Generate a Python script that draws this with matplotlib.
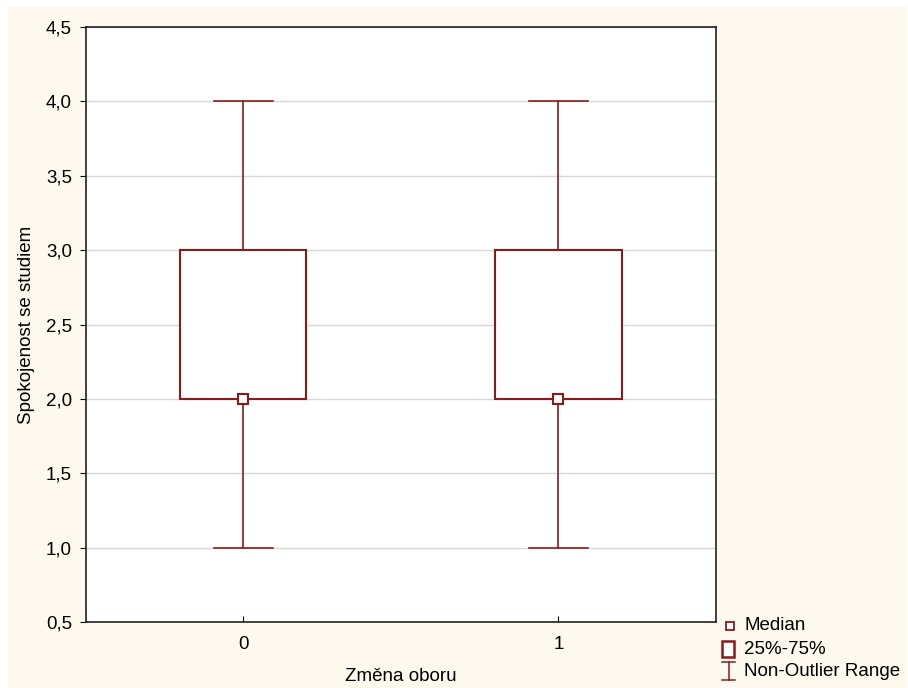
import matplotlib.pyplot as plt
from matplotlib.patches import Rectangle
from matplotlib.lines import Line2D

# data
groups = ["0", "1"]
medians = [2.0, 2.0]
q1 = [2.0, 2.0]
q3 = [3.0, 3.0]
wlow = [1.0, 1.0]
whigh = [4.0, 4.0]
yticks = [0.5, 1.0, 1.5, 2.0, 2.5, 3.0, 3.5, 4.0, 4.5]
legend_labels = ["Median", "25%-75%", "Non-Outlier Range"]

red = "#8b1a1a"
cream = "#fdf9ee"
plt.rcParams["font.family"] = ["Liberation Sans", "DejaVu Sans"]
fs = 13.5

W, H = 908, 688
fig = plt.figure(figsize=(W / 100, H / 100), dpi=100, facecolor="white")
fig.patches.append(Rectangle((8 / W, 0), 1 - 9 / W, 1 - 7 / H,
                             transform=fig.transFigure, facecolor=cream,
                             edgecolor="none", zorder=-10))

ax = fig.add_axes([86 / W, 1 - 622 / H, (716 - 86) / W, (622 - 27) / H])
ax.set_facecolor("white")

bw = 0.4
cap = 0.19
for i in range(len(groups)):
    ax.add_patch(Rectangle((i - bw / 2, q1[i]), bw, q3[i] - q1[i],
                           facecolor="white", edgecolor=red, lw=1.5, zorder=3))
    ax.plot([i, i], [wlow[i], q1[i]], color=red, lw=1.2, zorder=2)
    ax.plot([i, i], [q3[i], whigh[i]], color=red, lw=1.2, zorder=2)
    ax.plot([i - cap / 2, i + cap / 2], [wlow[i]] * 2, color=red, lw=1.2, zorder=2)
    ax.plot([i - cap / 2, i + cap / 2], [whigh[i]] * 2, color=red, lw=1.2, zorder=2)
    ax.plot(i, medians[i], marker="s", ms=7, mfc="white", mec=red, mew=1.5, zorder=4)

ax.set_xlim(-0.5, 1.5)
ax.set_ylim(0.5, 4.5)
ax.set_xticks(range(len(groups)))
ax.set_xticklabels(groups)
ax.set_yticks(yticks)
ax.set_yticklabels([f"{v:.1f}".replace(".", ",") for v in yticks])
ax.yaxis.grid(True, color="#d8d8d8", lw=1)
ax.set_axisbelow(True)
ax.tick_params(axis="y", direction="out", length=4, labelsize=fs, pad=6)
ax.tick_params(axis="x", direction="in", length=4, labelsize=fs, pad=10)
for s in ax.spines.values():
    s.set_color("#222222")
    s.set_linewidth(1.2)

ax.set_xlabel("Změna oboru", fontsize=fs, labelpad=11)
ax.set_ylabel("Spokojenost se studiem", fontsize=fs, labelpad=8)

# legend drawn by hand, positions in pixels
def fx(px):
    return px / W

def fy(py):
    return 1 - py / H

tf = fig.transFigure
fig.add_artist(Line2D([fx(730)], [fy(626)], ls="none", marker="s", ms=5.5,
                      mfc="white", mec=red, mew=1.3, transform=tf))
fig.add_artist(Rectangle((fx(722), fy(657)), 12 / W, 16 / H, facecolor="white",
                         edgecolor=red, lw=1.8, transform=tf))
fig.add_artist(Line2D([fx(728.5), fx(728.5)], [fy(662), fy(680)], color=red, lw=1.1, transform=tf))
for yy in (662, 680):
    fig.add_artist(Line2D([fx(722), fx(735)], [fy(yy), fy(yy)], color=red, lw=1.1, transform=tf))
for lab, yy in zip(legend_labels, [626, 649, 671]):
    fig.text(fx(744), fy(yy), lab, fontsize=fs, va="center", ha="left")

fig.savefig("out.png", dpi=100, facecolor=fig.get_facecolor())
